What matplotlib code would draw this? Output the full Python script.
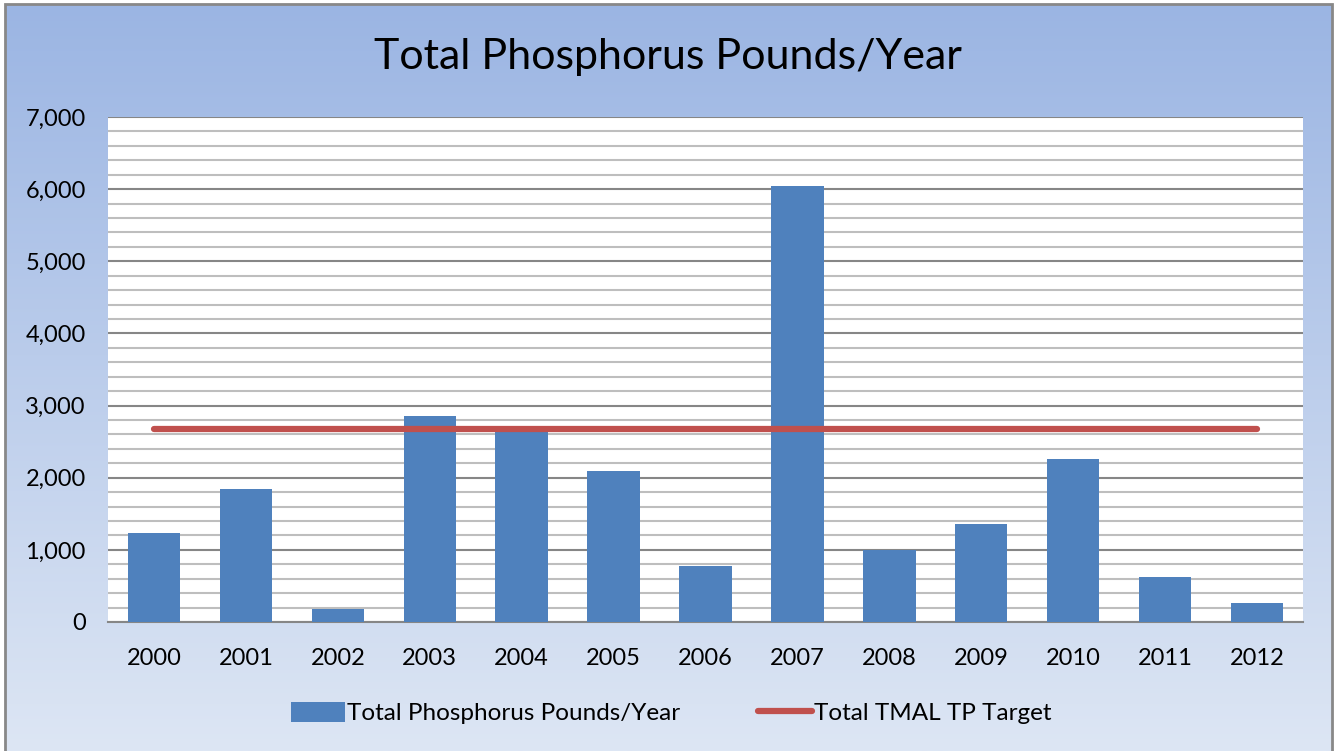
import numpy as np
import matplotlib.pyplot as plt
from matplotlib.patches import Rectangle

years = ['2000', '2001', '2002', '2003', '2004', '2005', '2006',
         '2007', '2008', '2009', '2010', '2011', '2012']
phosphorus = [1240, 1845, 180, 2860, 2700, 2090, 780,
              6050, 1000, 1360, 2260, 620, 260]
target = [2680] * len(years)

plt.rcParams['font.family'] = ['Lato', 'DejaVu Sans']

fig = plt.figure(figsize=(13.35, 7.51), dpi=100)
fig.patch.set_facecolor('white')

# gradient chart-area background with grey border
bg = fig.add_axes([0, 0, 1, 1], zorder=0)
grad = np.linspace(0, 1, 256).reshape(-1, 1)
top = np.array([0x9B, 0xB5, 0xE3]) / 255
bot = np.array([0xDD, 0xE6, 0xF4]) / 255
img = top + (bot - top) * grad[:, :, None]
bx0, by0, bx1, by1 = 5 / 1335, 0.0, 1332 / 1335, 1 - 4 / 751
bg.imshow(img, extent=[bx0, bx1, by0, by1], aspect='auto', origin='upper')
bg.add_patch(Rectangle((bx0, by0 - 0.01), bx1 - bx0, by1 - by0 + 0.01,
                       fill=False, edgecolor='#888888', lw=2))
bg.set_xlim(0, 1)
bg.set_ylim(0, 1)
bg.axis('off')

ax = fig.add_axes([108 / 1335, 1 - 622 / 751, (1303 - 108) / 1335, (622 - 117) / 751], zorder=1)
ax.set_facecolor('white')
x = np.arange(len(years))
bars = ax.bar(x, phosphorus, width=0.57, color='#4F81BD', zorder=3,
              label='Total Phosphorus Pounds/Year')
line, = ax.plot(x, target, color='#C0504D', lw=4.5, solid_capstyle='round', zorder=4,
                label='Total TMAL TP Target')

ax.set_xlim(-0.5, len(years) - 0.5)
ax.set_ylim(0, 7000)
ax.set_yticks(range(0, 7001, 1000))
ax.set_yticks(range(0, 7001, 200), minor=True)
ax.set_yticklabels([f'{v:,}' for v in range(0, 7001, 1000)])
ax.set_xticks(x)
ax.set_xticklabels(years)
ax.grid(axis='y', which='minor', color='#BEBEBE', lw=1.5, zorder=1)
ax.grid(axis='y', which='major', color='#868686', lw=1.5, zorder=2)
ax.tick_params(axis='both', which='both', length=0, labelsize=17, colors='black')
ax.tick_params(axis='x', pad=19)
ax.tick_params(axis='y', pad=16)
for s in ['top', 'right', 'left']:
    ax.spines[s].set_visible(False)
ax.spines['bottom'].set_color('#868686')
ax.spines['bottom'].set_linewidth(1.5)

fig.text(0.5, 1 - 57 / 751, 'Total Phosphorus Pounds/Year', ha='center', va='center',
         fontsize=31)

fig.legend([bars, line], ['Total Phosphorus Pounds/Year', 'Total TMAL TP Target'],
           loc='center', bbox_to_anchor=(0.503, 1 - 713 / 751), ncol=2, frameon=False,
           fontsize=17.5, handlelength=2.2, handleheight=0.9, handletextpad=0.1,
           columnspacing=3.2)

fig.savefig('out.png', dpi=100)
